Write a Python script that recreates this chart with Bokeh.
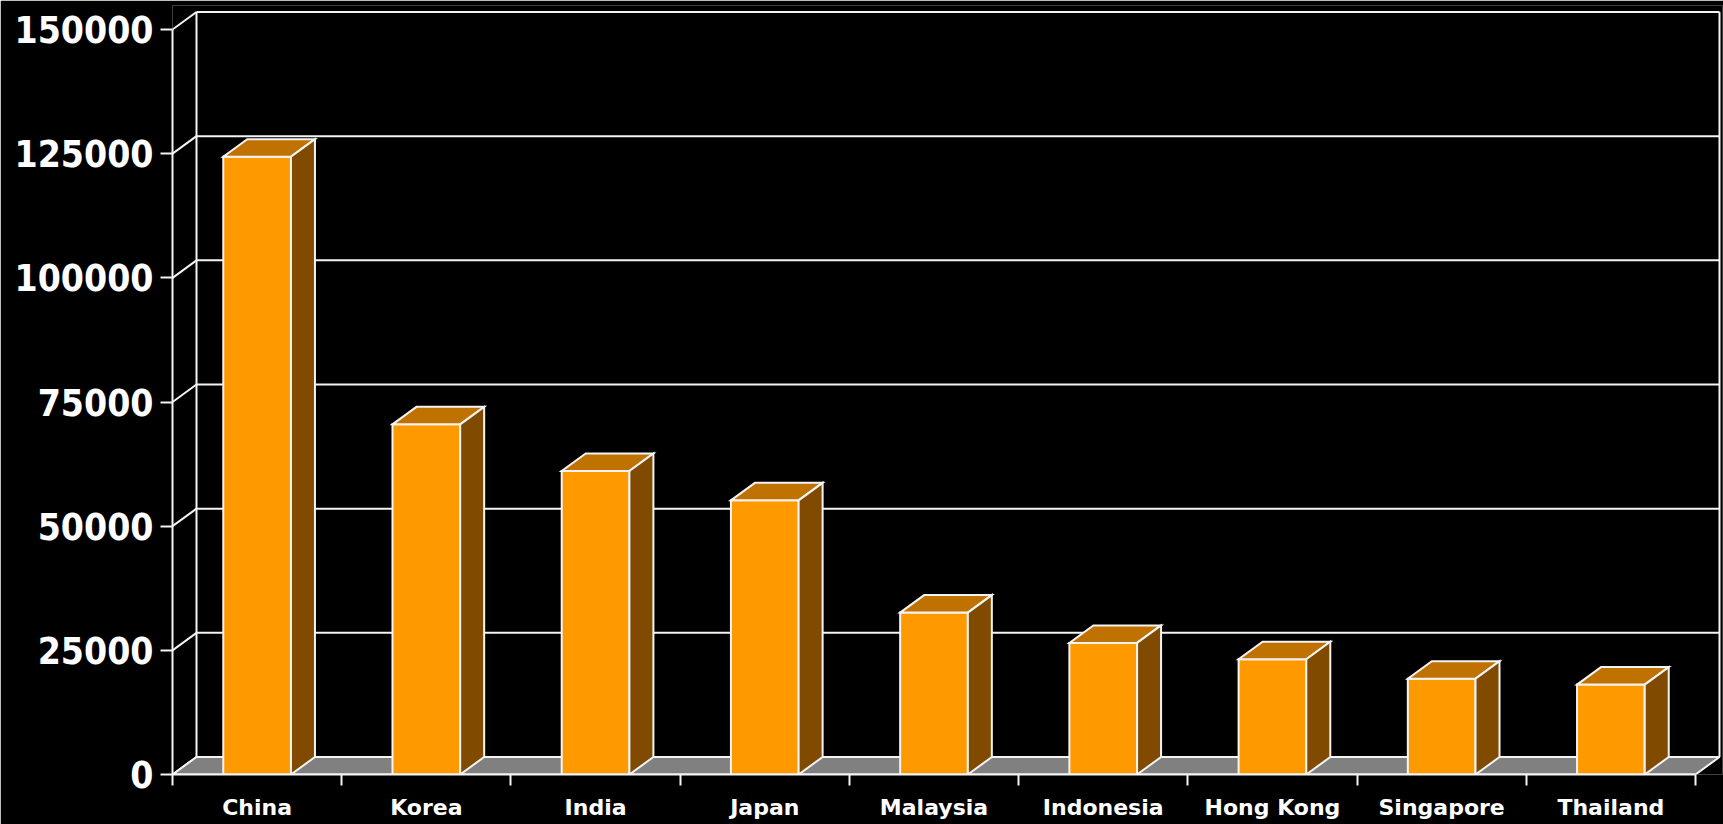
from bokeh.plotting import figure
from bokeh.models import Range1d, FixedTicker, LinearAxis, NumeralTickFormatter
from bokeh.embed import file_html
from bokeh.resources import INLINE

# ---- data ----
countries = ["China", "Korea", "India", "Japan", "Malaysia", "Indonesia",
             "Hong Kong", "Singapore", "Thailand"]
students = [124400, 70500, 61100, 55200, 32600, 26500, 23200, 19300, 18100]
y_ticks = [0, 25000, 50000, 75000, 100000, 125000, 150000]

# ---- layout (pixels) ----
W, H = 1723, 824
LEFT, RIGHT, TOP, BOTTOM = 172, 1, 5, 50
AXIS_PX_X = 1523      # length of front category axis
AXIS_PX_Y = 745       # length of front value axis
DEPTH_PX_X, DEPTH_PX_Y = 24, 17.5
BAR_W = 0.40

n = len(countries)
y_max = y_ticks[-1]
frame_w = W - LEFT - RIGHT
frame_h = H - TOP - BOTTOM
ppx = AXIS_PX_X / n
ppy = AXIS_PX_Y / y_max
DX = DEPTH_PX_X / ppx
DY = DEPTH_PX_Y / ppy

p = figure(width=W, height=H,
           x_range=Range1d(0, frame_w / ppx), y_range=Range1d(0, frame_h / ppy),
           output_backend="svg", toolbar_location=None,
           x_axis_type=None, y_axis_type=None,
           min_border_left=LEFT, min_border_right=RIGHT,
           min_border_top=TOP, min_border_bottom=BOTTOM,
           background_fill_color="black", border_fill_color="black",
           outline_line_color=None)

WHITE = "#F4F4F4"

# back wall gridlines + left wall diagonals
p.segment(x0=[DX] * len(y_ticks), y0=[t + DY for t in y_ticks],
          x1=[n + DX] * len(y_ticks), y1=[t + DY for t in y_ticks],
          line_color=WHITE, line_width=2)
p.segment(x0=[0] * len(y_ticks), y0=y_ticks,
          x1=[DX] * len(y_ticks), y1=[t + DY for t in y_ticks],
          line_color=WHITE, line_width=2)
# back wall vertical edges
p.segment(x0=[DX, n + DX], y0=[DY, DY], x1=[DX, n + DX], y1=[y_max + DY, y_max + DY],
          line_color=WHITE, line_width=2)

# floor
p.patch([0, n, n + DX, DX], [0, 0, DY, DY], fill_color="#808080",
        line_color=WHITE, line_width=2)

# bars
centers = [i + 0.5 for i in range(n)]
lefts = [c - BAR_W / 2 for c in centers]
rights = [c + BAR_W / 2 for c in centers]
p.quad(left=lefts, right=rights, bottom=0, top=students,
       fill_color="#FF9900", line_color=WHITE, line_width=2, line_join="miter")
top_xs = [[l, r, r + DX, l + DX] for l, r in zip(lefts, rights)]
top_ys = [[v, v, v + DY, v + DY] for v in students]
p.patches(top_xs, top_ys, fill_color="#C07200", line_color=WHITE, line_width=2,
          line_join="miter")
side_xs = [[r, r + DX, r + DX, r] for r in rights]
side_ys = [[0, DY, v + DY, v] for v in students]
p.patches(side_xs, side_ys, fill_color="#804B00", line_color=WHITE, line_width=2,
          line_join="miter")

# axes
xaxis = LinearAxis(ticker=FixedTicker(ticks=centers, minor_ticks=list(range(n + 1))),
                   major_label_overrides={c: name for c, name in zip(centers, countries)},
                   bounds=(0, n))
xaxis.axis_line_color = WHITE
xaxis.axis_line_width = 2
xaxis.major_tick_line_color = None
xaxis.major_tick_out = 0
xaxis.major_tick_in = 0
xaxis.minor_tick_line_color = WHITE
xaxis.minor_tick_line_width = 2
xaxis.minor_tick_out = 11
xaxis.minor_tick_in = 0
xaxis.major_label_standoff = 9
xaxis.major_label_text_color = "white"
xaxis.major_label_text_font = "DejaVu Sans"
xaxis.major_label_text_font_style = "bold"
xaxis.major_label_text_font_size = "22px"
p.add_layout(xaxis, "below")

yaxis = LinearAxis(ticker=FixedTicker(ticks=y_ticks, minor_ticks=[]),
                   formatter=NumeralTickFormatter(format="0"),
                   bounds=(0, y_max))
yaxis.axis_line_color = WHITE
yaxis.axis_line_width = 2
yaxis.major_tick_line_color = WHITE
yaxis.major_tick_line_width = 2
yaxis.major_tick_out = 12
yaxis.major_tick_in = 0
yaxis.minor_tick_line_color = None
yaxis.major_label_standoff = 7
yaxis.major_label_text_color = "white"
yaxis.major_label_text_font = "DejaVu Sans Condensed"
yaxis.major_label_text_font_style = "bold"
yaxis.major_label_text_font_size = "37px"
p.add_layout(yaxis, "left")

open("out.html", "w").write(file_html(p, INLINE))
